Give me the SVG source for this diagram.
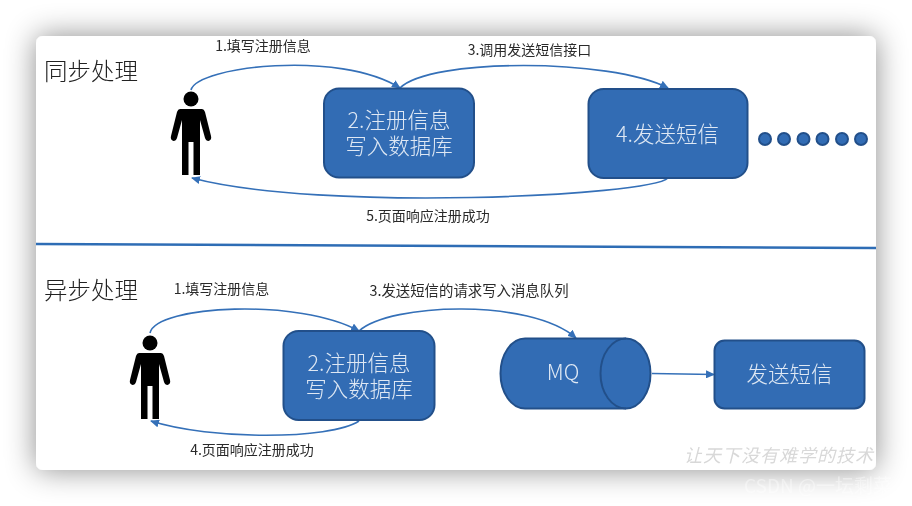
<svg xmlns="http://www.w3.org/2000/svg" width="912" height="506" viewBox="0 0 912 506">
<defs>
<filter id="sh" x="-10%" y="-15%" width="120%" height="130%"><feDropShadow dx="0" dy="0" stdDeviation="15" flood-color="#000" flood-opacity="0.45"/></filter>
<filter id="soft" x="0" y="0" width="100%" height="100%"><feGaussianBlur stdDeviation="0.35"/></filter>
<marker id="ah" markerWidth="9" markerHeight="8" refX="8" refY="4" orient="auto" markerUnits="userSpaceOnUse"><path d="M0 0L9 4L0 8Z" fill="#3470b8"/></marker>
<g id="man"><circle cx="0" cy="0" r="7.5"/><path d="M-11 10Q-13 10-14 13L-20 37Q-21 41-17.500 42Q-15 42-14 39L-9 21V76H-2.500V43H2.500V76H9V21L14 39Q15 42 17.500 42Q21 41 20 37L14 13Q13 10 11 10Z"/></g>
</defs>
<style>
text{font-family:"Noto Sans CJK SC","Liberation Sans",sans-serif}
.box{fill:#316cb4;stroke:#23508a;stroke-width:2}
.in{fill:#dfe8f4;font-size:21.500px;text-anchor:middle;font-weight:300}
.lb{fill:#2a2a2a;font-size:14px;text-anchor:middle}
.ti{fill:#222;font-size:23.500px;font-weight:300}
.cn{fill:none;stroke:#3470b8;stroke-width:1.600;marker-end:url(#ah)}
.dot{fill:#316cb4;stroke:#23508a;stroke-width:2}
</style>
<rect width="912" height="506" fill="#fff"/>
<rect id="card" x="36" y="36" width="840" height="434" rx="7" fill="#fff" filter="url(#sh)"/>
<g filter="url(#soft)">
<line x1="36" y1="244" x2="876" y2="248" stroke="#2f6db5" stroke-width="2.500"/>
<text class="ti" x="44" y="80">同步处理</text>
<text class="ti" x="44" y="299">异步处理</text>
<g id="connectors">
<path class="cn" d="M191 90C197 66 340 50 400 88"/>
<path class="cn" d="M400 88C430 58 610 58 668 88"/>
<path class="cn" d="M668 178C650 196 320 212 192 178"/>
<path class="cn" d="M150 333C156 305 300 298 359 331"/>
<path class="cn" d="M359 331C390 303 530 298 576 338"/>
<path class="cn" d="M359 421C330 440 210 440 151 421"/>
<path class="cn" d="M652 373.500L714 374.500"/>
</g>
<g id="user1"><use href="#man" x="191" y="99"/></g>
<g id="user2"><use href="#man" x="150" y="343"/></g>
<g id="write1"><rect class="box" x="324" y="88.500" width="150" height="89" rx="15"/><text class="in"><tspan x="399" y="128">2.注册信息</tspan><tspan x="399" y="154">写入数据库</tspan></text></g>
<g id="sms1"><rect class="box" x="588.500" y="89" width="159" height="89" rx="15"/><text class="in" x="667.500" y="142">4.发送短信</text></g>
<g id="dots"><circle class="dot" cx="765" cy="139" r="6"/><circle class="dot" cx="784" cy="139" r="6"/><circle class="dot" cx="803.500" cy="139" r="6"/><circle class="dot" cx="822.500" cy="139" r="6"/><circle class="dot" cx="842" cy="139" r="6"/><circle class="dot" cx="861" cy="139" r="6"/></g>
<g id="write2"><rect class="box" x="283.500" y="331" width="151" height="89" rx="15"/><text class="in"><tspan x="359" y="371">2.注册信息</tspan><tspan x="359" y="397">写入数据库</tspan></text></g>
<g id="mq"><path class="box" d="M525 338.500H626A24.500 35 0 0 1 626 408.500H525A24.500 35 0 0 1 525 338.500Z"/><path d="M626 338.500A25.500 35 0 0 0 626 408.500" fill="none" stroke="#23508a" stroke-width="2"/><text class="in" x="563" y="380">MQ</text></g>
<g id="sms2"><rect class="box" x="714.500" y="340.500" width="150" height="68" rx="10"/><text class="in" x="789.500" y="382">发送短信</text></g>
<text class="lb" x="263" y="51">1.填写注册信息</text>
<text class="lb" x="529.500" y="55">3.调用发送短信接口</text>
<text class="lb" x="428" y="221">5.页面响应注册成功</text>
<text class="lb" x="221.500" y="294">1.填写注册信息</text>
<text class="lb" x="469" y="296" style="font-size:14.400px">3.发送短信的请求写入消息队列</text>
<text class="lb" x="252" y="455">4.页面响应注册成功</text>
<text x="779" y="462" font-size="18" font-style="italic" fill="#d8d8d8" text-anchor="middle" style="letter-spacing:1px">让天下没有难学的技术</text>
<text x="744" y="493" font-size="19" fill="#fff" fill-opacity="0.4">CSDN @一坛剩菜</text>
</g>
</svg>
